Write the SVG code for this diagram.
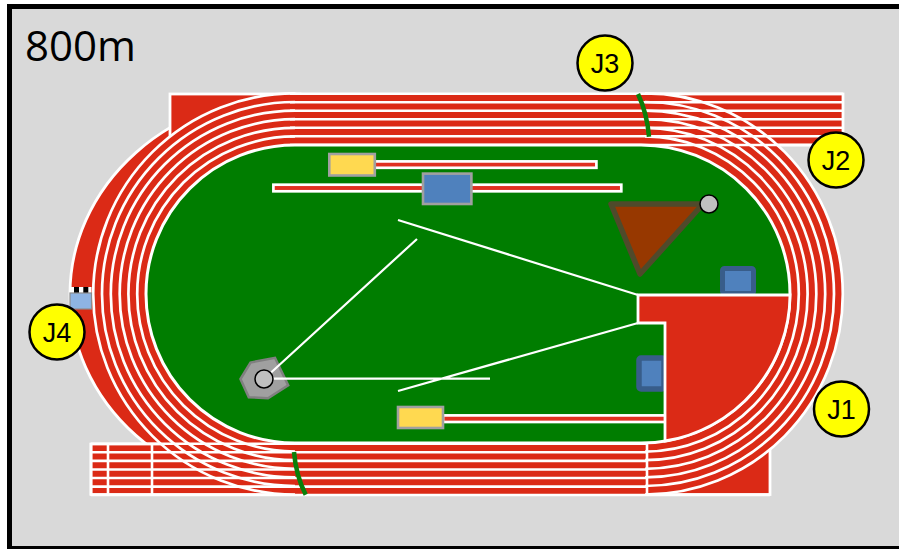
<svg xmlns="http://www.w3.org/2000/svg" width="899" height="549" viewBox="0 0 899 549">
<style>
.red{fill:#db2a16;stroke:#fff;stroke-width:2.8}
.lane{fill:none;stroke:#fff;stroke-width:2.7}
.rows{fill:none;stroke:#fff;stroke-width:2.6}
.wl{fill:none;stroke:#fff;stroke-width:2.2}
.run{fill:#e03020;stroke:#fff;stroke-width:2.7}
.gb{stroke:#a0a0a0;stroke-width:2.6}
.mark{fill:none;stroke:#0a800a;stroke-width:4.5;stroke-linecap:butt}
.judge circle{fill:#ff0;stroke:#000;stroke-width:2.5}
.judge text{font-family:"Liberation Sans",Arial,sans-serif;font-size:27px;fill:#000;text-anchor:middle}
</style>
<rect x="9.5" y="6.5" width="900" height="542" fill="#d9d9d9" stroke="#000" stroke-width="5"/>
<g id="title"><text x="25" y="61" font-family="Open Sans,sans-serif" font-size="42" fill="#000">800m</text></g>
<g id="track">
<path class="red" d="M295,94 A225,200 0 0 0 295,494 Z"/>
<rect class="red" x="170" y="94" width="130" height="60"/>
<rect class="red" x="91" y="444" width="679" height="50.5"/>
<rect class="red" x="640" y="94" width="203" height="51"/>
<path d="M295,93.4 H645 A197.8,200.6 0 0 1 645,494.6 H295 A201.8,200.6 0 0 1 295,93.4 Z" fill="#db2a16"/>
<path class="rows" d="M290,93.7 H843 M290,102.3 H843 M290,110.8 H843 M290,119.3 H843 M290,127.8 H843 M290,136.3 H843 M290,145 H843"/>
<path class="rows" d="M91,443.7 H647 M91,452.3 H647 M91,460.9 H647 M91,469.5 H647 M91,478 H647 M91,486.6 H647 M91,495 H770"/>
<path class="rows" d="M91,443 V495 M108,443 V495 M152,443 V495 M647,443 V495"/>
<path class="lane" d="M295,93.4 A201.8,200.6 0 0 0 295,494.6 M295,102 A193,192 0 0 0 295,486 M295,110.6 A184.2,183.4 0 0 0 295,477.4 M295,119.2 A175.4,174.8 0 0 0 295,468.8 M295,127.8 A166.6,166.2 0 0 0 295,460.2 M295,136.4 A157.8,157.6 0 0 0 295,451.6"/>
<path class="lane" d="M645,93.4 A197.8,200.6 0 0 1 645,494.6 M645,102 A189,192 0 0 1 645,486 M645,110.6 A180.2,183.4 0 0 1 645,477.4 M645,119.2 A171.4,174.8 0 0 1 645,468.8 M645,127.8 A162.6,166.2 0 0 1 645,460.2 M645,136.4 A153.8,157.6 0 0 1 645,451.6"/>
</g>
<g id="field">
<path d="M295,145 H641 A149,149 0 0 1 641,443 H295 A149,149 0 0 1 295,145 Z" fill="#007d00" stroke="#fff" stroke-width="3"/>
</g>
<g id="runway-top"><rect class="run" x="374" y="161.4" width="222.4" height="6.4"/><rect class="gb" x="329.3" y="154" width="45.5" height="21.5" fill="#ffd950"/></g>
<g id="runway-mid"><rect class="run" x="273.4" y="184.7" width="347.9" height="6.6"/><rect class="gb" x="423" y="173.6" width="48.4" height="30.4" fill="#4f81bd"/></g>
<g id="runway-low"><rect class="run" x="443" y="415.4" width="223" height="6.6"/><rect class="gb" x="398" y="407" width="45" height="21" fill="#ffd950"/></g>
<g id="pit-a"><rect x="722.5" y="268.5" width="31" height="25" rx="2" fill="#4f81bd" stroke="#385d8a" stroke-width="5"/></g>
<g id="pit-b"><rect x="639" y="358" width="25" height="31" rx="2" fill="#4f81bd" stroke="#385d8a" stroke-width="5.5"/></g>
<g id="zone"><path class="red" d="M638,295 H790 A149,149 0 0 1 665,441 V323 H638 Z"/></g>
<g id="discus-base"><polygon points="240.5,379 250.5,362.5 275,357.8 288.2,385.4 268,398.2 248.8,397.2" fill="#a0a0a0" stroke="#808080" stroke-width="2.5"/></g>
<g id="sectors">
<path class="wl" d="M264,379 L417,239 M264,378.6 H490 M398,220 L638,295 M398,391 L638,323"/>
</g>
<g id="discus"><circle cx="264" cy="379" r="9" fill="#c0c0c0" stroke="#000" stroke-width="1.5"/></g>
<g id="triangle"><polygon points="611,204 703,204 640,274" fill="#973800" stroke="#4f4a2b" stroke-width="5.5" stroke-linejoin="round"/><circle cx="709" cy="204" r="9" fill="#c0c0c0" stroke="#000" stroke-width="1.5"/></g>
<g id="finish-top"><path class="mark" d="M638,94 Q647,113 649,136.7"/></g>
<g id="finish-bottom"><path class="mark" d="M294,452 Q296,476 305.7,494.7"/></g>
<g id="sign">
<rect x="69.5" y="287" width="22" height="6" fill="#fff"/>
<rect x="74" y="287" width="5" height="6" fill="#000"/><rect x="83.3" y="287" width="5" height="6" fill="#000"/>
<rect x="70" y="293" width="21.5" height="16" fill="#8eb4e3" stroke="#8c8c8c" stroke-width="1.2"/>
</g>
<g id="j1" class="judge"><circle cx="841.5" cy="409" r="27.5"/><text x="841.5" y="419">J1</text></g>
<g id="j2" class="judge"><circle cx="836" cy="160" r="27.5"/><text x="836" y="170">J2</text></g>
<g id="j3" class="judge"><circle cx="605" cy="63" r="27.5"/><text x="605" y="73">J3</text></g>
<g id="j4" class="judge"><circle cx="57" cy="332" r="27.5"/><text x="57" y="342">J4</text></g>
</svg>
